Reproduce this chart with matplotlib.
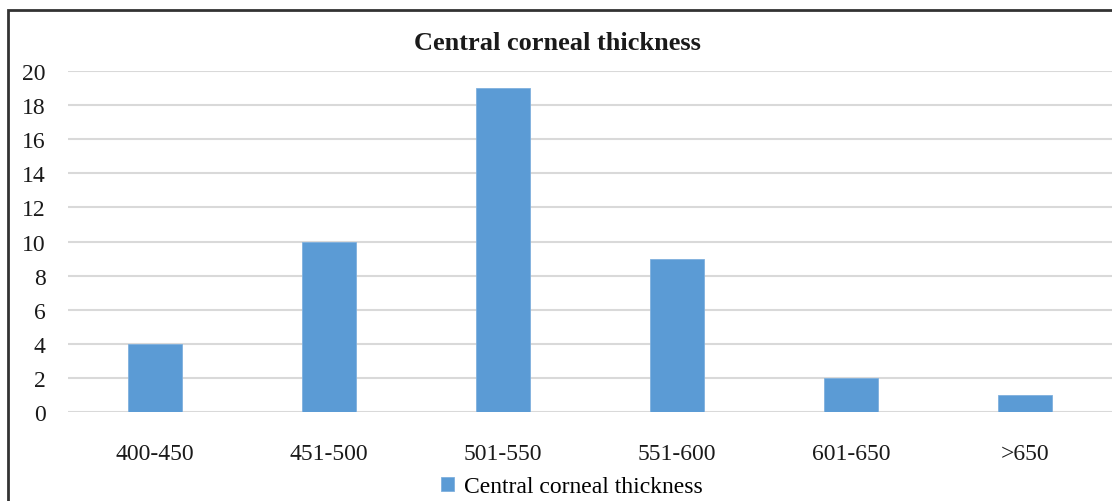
import numpy as np
import matplotlib.pyplot as plt
from matplotlib.patches import Rectangle

categories = ['400-450', '451-500', '501-550', '551-600', '601-650', '>650']
counts = [4, 10, 19, 9, 2, 1]

plt.rcParams['font.family'] = ['Liberation Serif', 'DejaVu Serif']

W, H = 1112, 502
fig = plt.figure(figsize=(W / 100, H / 100), dpi=100)
ax = fig.add_axes([68 / W, 1 - 413 / H, 1 - 68 / W, (413 - 72) / H])

x = np.arange(len(categories))
ax.bar(x, counts, width=0.31, color='#5B9BD5', edgecolor='#7FB0DE', linewidth=0.6,
       label='Central corneal thickness', zorder=3)

ax.set_xlim(-0.5, len(categories) - 0.5)
ax.set_ylim(0, 20)
ax.set_yticks(range(0, 21, 2))
ax.set_xticks(x)
ax.set_xticklabels(categories)
ax.tick_params(axis='both', length=0, labelsize=17, colors='#404040', labelcolor='#1a1a1a')
ax.tick_params(axis='y', pad=16)
ax.tick_params(axis='x', pad=22)
ax.grid(axis='y', color='#d9d9d9', linewidth=1.5, zorder=0)
for s in ax.spines.values():
    s.set_visible(False)

# title, a little lower than before
fig.text(557 / W, 1 - 43 / H, 'Central corneal thickness', ha='center', va='center',
         fontsize=19, fontweight='bold', color='#1a1a1a')

fig.legend(loc='center', bbox_to_anchor=(572 / W, 1 - 488 / H), frameon=False,
           fontsize=17, handlelength=0.55, handleheight=0.55, handletextpad=0.4)

# outer frame, cut off at the right and bottom edges
fig.patches.append(Rectangle((8 / W, -0.1), 1.2, 1 - 11 / H + 0.1, transform=fig.transFigure,
                             fill=False, edgecolor='#333333', linewidth=2))

fig.savefig('out.png', dpi=100)
